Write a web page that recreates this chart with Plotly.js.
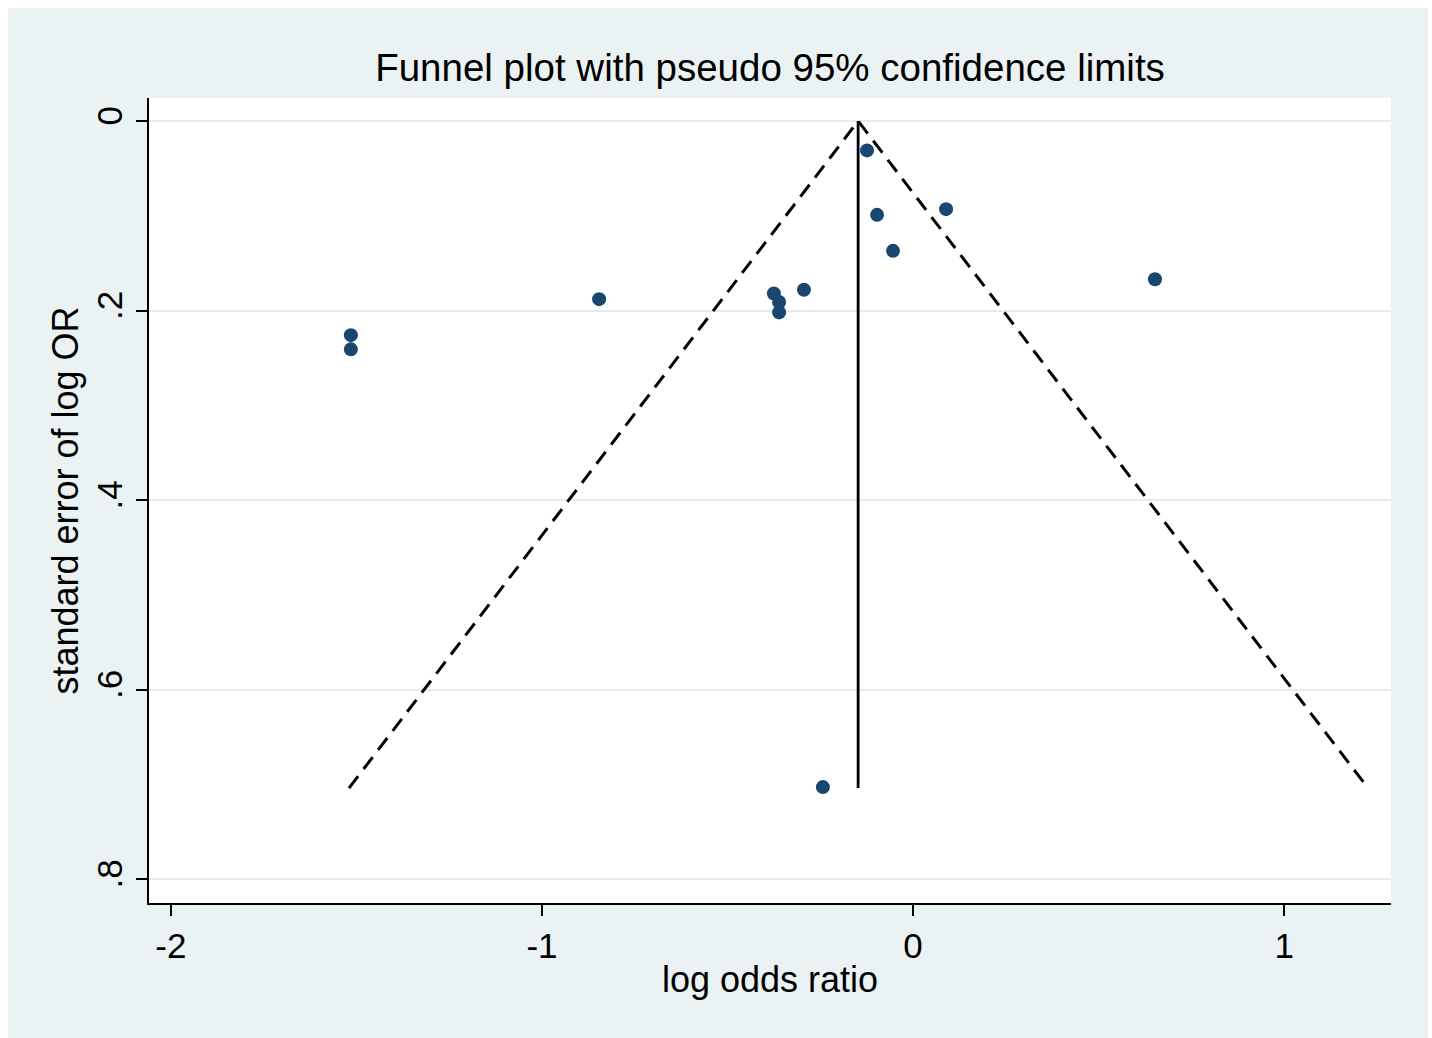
<!DOCTYPE html>
<html>
<head>
<meta charset="utf-8">
<script src="https://cdn.plot.ly/plotly-3.0.1.min.js"></script>
<style>
  html, body { margin: 0; padding: 0; background: #ffffff; }
  #chart { position: absolute; left: 8px; top: 8px; width: 1420px; height: 1030px; }
</style>
</head>
<body>
<div id="chart"></div>
<script>
// Study estimates (log odds ratio) and their standard errors
const logOR = [-0.124, -0.097, 0.089, -0.054, 0.652, -0.846, -0.375, -0.294, -0.361, -0.361, -1.515, -1.515, -0.243];
const seLogOR = [0.031, 0.099, 0.093, 0.137, 0.167, 0.188, 0.182, 0.178, 0.191, 0.202, 0.226, 0.241, 0.703];

// Pseudo 95% confidence limits (funnel) and pooled estimate line
const funnelX = [-1.52, -0.148, 1.226];
const funnelY = [0.704, 0.0, 0.704];
const pooledX = [-0.148, -0.148];
const pooledY = [0.0, 0.704];

// Tick values and labels
const xTickVals = [-2, -1, 0, 1];
const xTickText = ["-2", "-1", "0", "1"];
const yTickVals = [0, 0.2, 0.4, 0.6, 0.8];
const yTickText = ["0", ".2", ".4", ".6", ".8"];

const FONT = "Liberation Sans, Arial, Helvetica, sans-serif";

const traces = [
  {
    x: funnelX, y: funnelY, type: "scatter", mode: "lines",
    line: { color: "#000000", width: 3, dash: "15px,9px" },
    hoverinfo: "skip", showlegend: false
  },
  {
    x: pooledX, y: pooledY, type: "scatter", mode: "lines",
    line: { color: "#000000", width: 2.8 },
    hoverinfo: "skip", showlegend: false
  },
  {
    x: logOR, y: seLogOR, type: "scatter", mode: "markers",
    marker: { color: "#1A476F", size: 14, line: { width: 0 } },
    showlegend: false
  }
];

const layout = {
  width: 1420, height: 1030,
  paper_bgcolor: "#EAF2F3",
  plot_bgcolor: "#FFFFFF",
  margin: { l: 141, r: 37, t: 90, b: 135, pad: 0 },
  font: { family: FONT, color: "#000000", size: 35 },
  title: {
    text: "Funnel plot with pseudo 95% confidence limits",
    font: { family: FONT, size: 38.5, color: "#000000" },
    x: 0.5, xref: "paper", xanchor: "center",
    y: 1 - 60 / 1030, yref: "container", yanchor: "middle"
  },
  xaxis: {
    range: [-2.059, 1.288],
    tickmode: "array", tickvals: xTickVals, ticktext: xTickText,
    ticks: "outside", ticklen: 11, tickwidth: 2, tickcolor: "#000000",
    tickfont: { family: FONT, size: 35, color: "#000000" },
    showline: true, linecolor: "#000000", linewidth: 2,
    showgrid: false, zeroline: false,
    title: { text: "log odds ratio", font: { family: FONT, size: 36, color: "#000000" }, standoff: 3 },
    automargin: false
  },
  yaxis: {
    range: [0.8253, -0.0243],
    tickmode: "array", tickvals: yTickVals, ticktext: yTickText,
    tickangle: -90,
    ticks: "outside", ticklen: 11, tickwidth: 2, tickcolor: "#000000",
    tickfont: { family: FONT, size: 35, color: "#000000" },
    showline: true, linecolor: "#000000", linewidth: 2,
    showgrid: true, gridcolor: "#E3EDEF", gridwidth: 2,
    zeroline: false,
    title: { text: "standard error of log OR", font: { family: FONT, size: 36, color: "#000000" }, standoff: 0 },
    automargin: false
  }
};

Plotly.newPlot("chart", traces, layout, { displayModeBar: false, staticPlot: true });
</script>
</body>
</html>
